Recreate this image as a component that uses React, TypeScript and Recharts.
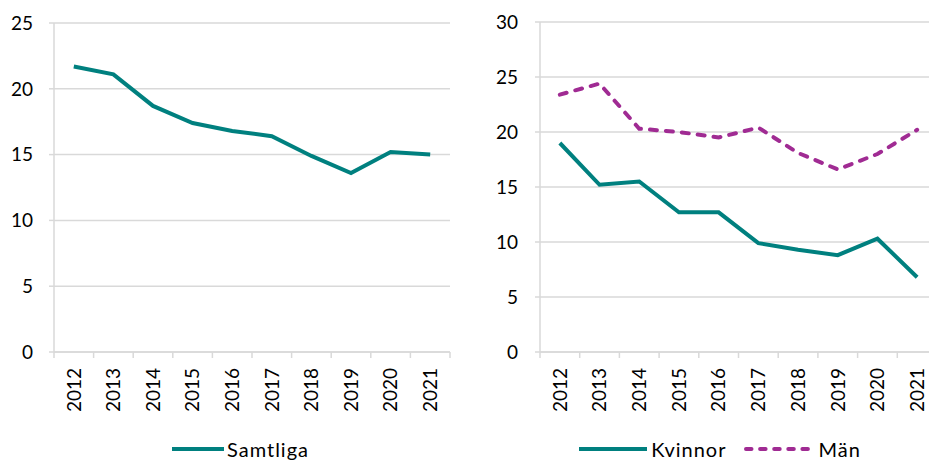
import { LineChart, Line, XAxis, YAxis, CartesianGrid, Legend } from 'recharts';

// Andel (%) per år
const years = ['2012', '2013', '2014', '2015', '2016', '2017', '2018', '2019', '2020', '2021'];
const samtliga = [21.7, 21.1, 18.7, 17.4, 16.8, 16.4, 14.9, 13.6, 15.2, 15.0];
const kvinnor = [19.0, 15.2, 15.5, 12.7, 12.7, 9.9, 9.3, 8.8, 10.3, 6.8];
const man = [23.4, 24.4, 20.3, 20.0, 19.5, 20.4, 18.1, 16.6, 18.0, 20.2];

const leftTicks = [0, 5, 10, 15, 20, 25];
const rightTicks = [0, 5, 10, 15, 20, 25, 30];

const TEAL = '#00807f';
const PURPLE = '#a02b93';
const GRID = '#d9d9d9';
const FONT = 'Lato, "Open Sans", sans-serif';

const leftData = years.map((y, i) => ({ year: y, samtliga: samtliga[i] }));
const rightData = years.map((y, i) => ({ year: y, kvinnor: kvinnor[i], man: man[i] }));

// Excel-style category axis: labels rotated, tick marks between categories
const makeTick = (step: number) => (props: any) => {
  const { x, y, payload, index, visibleTicksCount } = props;
  const last = index === visibleTicksCount - 1;
  return (
    <g transform={`translate(${x},${y})`}>
      <line x1={-step / 2} x2={-step / 2} y1={-16} y2={-10} stroke={GRID} strokeWidth={1.5} />
      {last && <line x1={step / 2} x2={step / 2} y1={-16} y2={-10} stroke={GRID} strokeWidth={1.5} />}
      <text transform="rotate(-90)" textAnchor="end" dy="0.36em" fontSize={19} fill="#000" fontFamily={FONT}>
        {payload.value}
      </text>
    </g>
  );
};

type Item = { label: string; color: string; dashed?: boolean; len: number; gap: number };

const makeLegend = (items: Item[], shift: number) => () => (
  <div
    style={{
      height: 30,
      display: 'flex',
      justifyContent: 'center',
      alignItems: 'center',
      paddingLeft: shift,
      gap: 18,
      fontFamily: FONT,
      fontSize: 20,
      letterSpacing: 1,
      color: '#000',
    }}
  >
    {items.map((it) => (
      <div key={it.label} style={{ display: 'flex', alignItems: 'center', gap: it.gap }}>
        <svg width={it.len} height={8} style={{ display: 'block' }}>
          <line
            x1={it.dashed ? 2 : 0}
            x2={it.dashed ? it.len - 2 : it.len}
            y1={4}
            y2={4}
            stroke={it.color}
            strokeWidth={4}
            strokeLinecap={it.dashed ? 'round' : 'butt'}
            strokeDasharray={it.dashed ? '5.5 8.6' : undefined}
          />
        </svg>
        <span>{it.label}</span>
      </div>
    ))}
  </div>
);

const yTick = { fontSize: 19, fill: '#000', fontFamily: FONT };

export default function App() {
  return (
    <div
      style={{
        position: 'absolute',
        left: 0,
        top: 0,
        width: 929,
        height: 464,
        overflow: 'hidden',
        background: '#fff',
      }}
    >
      <div style={{ position: 'absolute', left: 0, top: 0 }}>
        <LineChart width={465} height={464} data={leftData} margin={{ top: 23, right: 15, bottom: 0, left: 0 }}>
          <CartesianGrid vertical={false} stroke={GRID} strokeWidth={1.5} />
          <XAxis
            dataKey="year"
            height={82}
            interval={0}
            padding={{ left: 19.8, right: 19.8 }}
            axisLine={{ stroke: GRID, strokeWidth: 1.5 }}
            tickLine={false}
            tickSize={0}
            tickMargin={16}
            tick={makeTick(39.6)}
          />
          <YAxis
            width={54}
            domain={[0, 25]}
            ticks={leftTicks}
            interval={0}
            axisLine={{ stroke: GRID, strokeWidth: 1.5 }}
            tickLine={{ stroke: GRID, strokeWidth: 1.5 }}
            tickSize={5}
            tickMargin={16}
            tick={yTick}
          />
          <Legend
            verticalAlign="bottom"
            content={makeLegend([{ label: 'Samtliga', color: TEAL, len: 52, gap: 3 }], 31)}
          />
          <Line
            dataKey="samtliga"
            name="Samtliga"
            stroke={TEAL}
            strokeWidth={4}
            dot={false}
            isAnimationActive={false}
          />
        </LineChart>
      </div>
      <div style={{ position: 'absolute', left: 465, top: 0 }}>
        <LineChart width={480} height={464} data={rightData} margin={{ top: 22, right: 8, bottom: 0, left: 0 }}>
          <CartesianGrid vertical={false} stroke={GRID} strokeWidth={1.5} />
          <XAxis
            dataKey="year"
            height={82}
            interval={0}
            padding={{ left: 19.85, right: 19.85 }}
            axisLine={{ stroke: GRID, strokeWidth: 1.5 }}
            tickLine={false}
            tickSize={0}
            tickMargin={16}
            tick={makeTick(39.7)}
          />
          <YAxis
            width={75}
            domain={[0, 30]}
            ticks={rightTicks}
            interval={0}
            axisLine={{ stroke: GRID, strokeWidth: 1.5 }}
            tickLine={{ stroke: GRID, strokeWidth: 1.5 }}
            tickSize={5}
            tickMargin={17}
            tick={yTick}
          />
          <Legend
            verticalAlign="bottom"
            content={makeLegend(
              [
                { label: 'Kvinnor', color: TEAL, len: 68, gap: 4 },
                { label: 'Män', color: PURPLE, dashed: true, len: 70, gap: 4 },
              ],
              38
            )}
          />
          <Line
            dataKey="kvinnor"
            name="Kvinnor"
            stroke={TEAL}
            strokeWidth={4}
            dot={false}
            isAnimationActive={false}
          />
          <Line
            dataKey="man"
            name="Män"
            stroke={PURPLE}
            strokeWidth={4}
            strokeDasharray="7 9"
            strokeLinecap="round"
            dot={false}
            isAnimationActive={false}
          />
        </LineChart>
      </div>
    </div>
  );
}
